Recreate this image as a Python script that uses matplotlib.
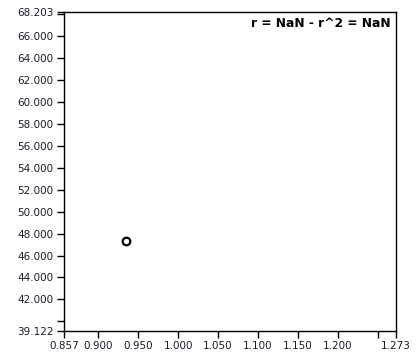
import numpy as np
import matplotlib
matplotlib.use("Agg")
import matplotlib.pyplot as plt

# data
xs = [0.935]
ys = [47.32]
x_lim = [0.857, 1.273]
y_lim = [39.122, 68.203]
x_ticks = [0.857, 0.900, 0.950, 1.000, 1.050, 1.100, 1.150, 1.200, 1.273]
x_minor = [1.250]
y_ticks = [39.122, 42.0, 44.0, 46.0, 48.0, 50.0, 52.0, 54.0, 56.0, 58.0, 60.0, 62.0, 64.0, 66.0, 68.203]
y_minor = [40.0, 68.0]
label = "r = NaN - r^2 = NaN"

plt.rcParams['font.family'] = ['DejaVu Sans']

fig = plt.figure(figsize=(4.2, 3.6), dpi=100)
ax = fig.add_axes([64 / 420, 1 - 331 / 360, 332 / 420, 319 / 360])

ax.scatter(xs, ys, s=30, facecolors='white', edgecolors='black', linewidths=1.6, zorder=3)

ax.set_xlim(x_lim)
ax.set_ylim(y_lim)
ax.set_xticks(x_ticks)
ax.set_xticklabels(["%.3f" % v for v in x_ticks])
ax.set_xticks(x_minor, minor=True)
ax.set_yticks(y_ticks)
ax.set_yticklabels(["%.3f" % v for v in y_ticks])
ax.set_yticks(y_minor, minor=True)

ax.tick_params(which='both', direction='out', length=5, width=1, color='black',
               labelsize=7.5, labelcolor='#1a1a2a', pad=2.5)
for s in ax.spines.values():
    s.set_linewidth(1)
    s.set_color('black')

ax.text(0.985, 0.985, label, transform=ax.transAxes, ha='right', va='top',
        fontsize=8.8, fontweight='bold')

fig.savefig("out.png", dpi=100)
